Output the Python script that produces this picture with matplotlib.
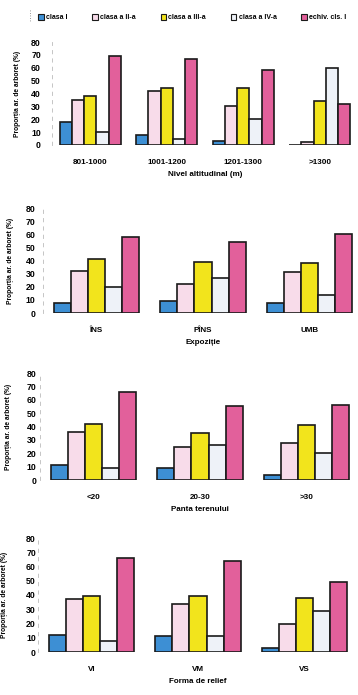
"""Proporția arboretelor pe clase de producție, pe 4 factori staționali."""
import matplotlib
matplotlib.use("Agg")
import matplotlib.pyplot as plt
import numpy as np

plt.rcParams["font.family"] = ["Liberation Sans", "DejaVu Sans"]

CLASSES = ["clasa I", "clasa a II-a", "clasa a III-a", "clasa a IV-a", "echiv. cls. I"]
COLORS = ["#3d8fd4", "#f8dcea", "#f2e41c", "#eef2f8", "#e2609b"]

# nivel altitudinal
alt_labels = ["801-1000", "1001-1200", "1201-1300", ">1300"]
alt_cls1 = [18, 8, 3, 0]
alt_cls2 = [35, 42, 30, 2]
alt_cls3 = [38, 44, 44, 34]
alt_cls4 = [10, 5, 20, 60]
alt_cls5 = [69, 67, 58, 32]

# expoziție
exp_labels = ["ÎNS", "PÎNS", "UMB"]
exp_cls1 = [8, 9, 8]
exp_cls2 = [32, 22, 31]
exp_cls3 = [41, 39, 38]
exp_cls4 = [20, 27, 14]
exp_cls5 = [58, 54, 60]

# panta terenului
pan_labels = ["<20", "20-30", ">30"]
pan_cls1 = [11, 9, 4]
pan_cls2 = [36, 25, 28]
pan_cls3 = [42, 35, 41]
pan_cls4 = [9, 26, 20]
pan_cls5 = [66, 55, 56]

# forma de relief
rel_labels = ["VI", "VM", "VS"]
rel_cls1 = [12, 11, 3]
rel_cls2 = [37, 34, 20]
rel_cls3 = [39, 39, 38]
rel_cls4 = [8, 11, 29]
rel_cls5 = [66, 64, 49]

W, H = 358, 695
fig = plt.figure(figsize=(W / 100, H / 100), dpi=100)

# (left, top, right, bottom) in pixels, tick pad, ylabel x
panels = [
    (alt_labels, [alt_cls1, alt_cls2, alt_cls3, alt_cls4, alt_cls5],
     "Nivel altitudinal (m)", (52, 42, 358, 145), 8.0, 21),
    (exp_labels, [exp_cls1, exp_cls2, exp_cls3, exp_cls4, exp_cls5],
     "Expoziție", (43, 208, 363, 313), 5.5, 14),
    (pan_labels, [pan_cls1, pan_cls2, pan_cls3, pan_cls4, pan_cls5],
     "Panta terenului", (40, 373, 360, 480), 2.5, 12),
    (rel_labels, [rel_cls1, rel_cls2, rel_cls3, rel_cls4, rel_cls5],
     "Forma de relief", (38, 538, 358, 652), 1.5, 8),
]

for cats, series, xlabel, (l, t, r, b), ypad, ylab_x in panels:
    ax = fig.add_axes([l / W, 1 - b / H, (r - l) / W, (b - t) / H])
    x = np.arange(len(cats))
    bw = 0.16
    for i, vals in enumerate(series):
        ax.bar(x + (i - 2) * bw, vals, width=bw, color=COLORS[i],
               edgecolor="#1a1a1a", linewidth=1.2, zorder=3)
    ax.axhline(0, color="#555555", linewidth=0.7, linestyle=(0, (3, 3)), zorder=2)
    ax.set_xlim(-0.5, len(cats) - 0.5)
    ax.set_ylim(0, 80)
    ax.set_yticks(np.arange(0, 81, 10))
    ax.set_xticks(x)
    ax.set_xticklabels(cats)
    ax.tick_params(axis="y", length=0, pad=ypad, labelsize=6.3)
    ax.tick_params(axis="x", length=0, pad=10, labelsize=5.8)
    for lab in ax.get_xticklabels() + ax.get_yticklabels():
        lab.set_fontweight("bold")
    for s in ("top", "right", "bottom"):
        ax.spines[s].set_visible(False)
    ax.spines["left"].set_color("#bbbbbb")
    ax.spines["left"].set_linestyle((0, (4, 6)))
    ax.spines["left"].set_linewidth(0.6)
    ax.set_xlabel(xlabel, fontsize=5.8, fontweight="bold", labelpad=4)
    ax.set_ylabel("Proporția ar. de arboret (%)", fontsize=4.8, fontweight="bold")
    ax.yaxis.set_label_coords((ylab_x - l) / (r - l), 0.5)
    ax.set_facecolor("none")

handles = [plt.Rectangle((0, 0), 1, 1, facecolor=c, edgecolor="#1a1a1a", linewidth=0.8)
           for c in COLORS]
fig.legend(handles, CLASSES, loc="upper left", bbox_to_anchor=(32 / W, 1 - 8 / H),
           ncol=5, frameon=False, prop={"size": 5, "weight": "bold"},
           handlelength=0.8, handleheight=0.8, handletextpad=0.3, columnspacing=3.6)
# the thin dotted mark left of the legend
fig.add_artist(plt.Line2D([30 / W, 30 / W], [1 - 10 / H, 1 - 22 / H],
                          transform=fig.transFigure, color="#777777",
                          linewidth=0.6, linestyle=(0, (1, 2))))

fig.savefig("out.png", dpi=100)
